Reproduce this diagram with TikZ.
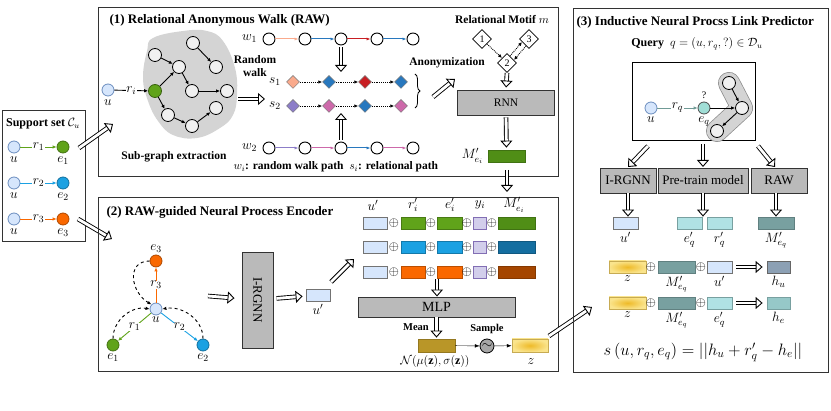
\RequirePackage{fix-cm}
\documentclass[tikz,border=0pt]{standalone}
\usepackage{fontspec}
\setmainfont{Liberation Serif}
\usetikzlibrary{arrows.meta,positioning,calc,decorations.pathreplacing,shapes.geometric}
\definecolor{uBlue}{RGB}{214,230,252}
\definecolor{uBlueLine}{RGB}{108,142,191}
\definecolor{eGreen}{RGB}{96,163,26}
\definecolor{eBlue}{RGB}{27,161,226}
\definecolor{eOrange}{RGB}{250,104,0}
\definecolor{eTeal}{RGB}{160,222,214}
\definecolor{wSalmon}{RGB}{250,170,140}
\definecolor{wBlue}{RGB}{40,120,190}
\definecolor{wRed}{RGB}{200,30,35}
\definecolor{wPurple}{RGB}{140,125,200}
\definecolor{wPink}{RGB}{205,105,170}
\definecolor{mGreen}{RGB}{80,142,22}
\definecolor{mBlue}{RGB}{20,110,160}
\definecolor{mBrown}{RGB}{165,70,0}
\definecolor{yLav}{RGB}{210,206,235}
\definecolor{yLavLine}{RGB}{130,110,180}
\definecolor{meanGold}{RGB}{185,150,40}
\definecolor{zYellow}{RGB}{238,186,40}
\definecolor{zLight}{RGB}{250,228,140}
\definecolor{qTeal}{RGB}{176,226,228}
\definecolor{qDark}{RGB}{120,160,160}
\definecolor{hBlue}{RGB}{140,160,180}
\definecolor{hTeal}{RGB}{150,200,200}
\colorlet{boxgray}{black!27}
\colorlet{blobgray}{black!17}

\begin{document}
\begin{tikzpicture}[x=1pt,y=-1pt,>=Latex,font=\fontsize{13.5}{15}\selectfont,
  panel/.style={draw=black!80,line width=1.1pt},
  ttl/.style={font=\bfseries\fontsize{13}{15}\selectfont,anchor=west},
  bold/.style={font=\bfseries\fontsize{11.5}{13}\selectfont},
  ent/.style={circle,draw,line width=0.8pt,minimum size=12pt,inner sep=0pt},
  wnode/.style={circle,draw,line width=0.9pt,fill=white,minimum size=12pt,inner sep=0pt},
  gnode/.style={circle,draw,line width=0.8pt,fill=black!6,minimum size=13pt,inner sep=0pt},
  rel/.style={diamond,draw=black!55,line width=0.5pt,minimum size=13pt,inner sep=0pt},
  motif/.style={diamond,draw,line width=0.8pt,fill=white,minimum size=19pt,inner sep=0pt,font=\fontsize{10}{11}\selectfont},
  vec/.style={rectangle,line width=0.8pt,minimum height=12pt,inner sep=0pt},
  grayblock/.style={draw=black!80,line width=0.9pt,fill=boxgray,font=\fontsize{13}{15}\selectfont},
  op/.style={inner sep=0pt,font=\fontsize{13}{14}\selectfont},
  rl/.style={fill=white,inner sep=0.5pt},
  link/.style={-{Latex[length=4pt,width=3.5pt]},line width=0.9pt},
  walk/.style={-{Latex[length=4pt,width=3pt]},line width=1pt},
  hop/.style={densely dotted,-{Latex[length=4pt,width=3.5pt]},line width=0.9pt},
  back/.style={dashed,-{Latex[length=4pt,width=3.5pt]},line width=0.9pt},
  hollow/.style={double=white,double distance=2.8pt,line width=0.9pt,-{Triangle[open,fill=white,length=7pt,width=12pt]}}]
\useasboundingbox (0,0) rectangle (831,411);

% support set
\node[panel,minimum width=83pt,minimum height=131pt,anchor=north west] (support) at (2,110) {};
\node[font=\bfseries\fontsize{12}{14}\selectfont] (suptitle) at (43,124) {Support set $\mathcal{C}_u$};
\node[ent,fill=uBlue,draw=uBlueLine] (su1) at (14,147) {};
\node[ent,fill=eGreen,draw=eGreen!70!black] (se1) at (63,147) {};
\node[ent,fill=uBlue,draw=uBlueLine] (su2) at (14,183) {};
\node[ent,fill=eBlue,draw=eBlue!70!black] (se2) at (63,183) {};
\node[ent,fill=uBlue,draw=uBlueLine] (su3) at (14,219) {};
\node[ent,fill=eOrange,draw=eOrange!70!black] (se3) at (63,219) {};
\draw[link,draw=eGreen] (su1) -- node[rl] {$r_1$} (se1);
\draw[link,draw=eBlue] (su2) -- node[rl] {$r_2$} (se2);
\draw[link,draw=eOrange] (su3) -- node[rl] {$r_3$} (se3);
\node[below=-0.5pt of su1] (lu1) {$u$};
\node[below=-0.5pt of se1] (le1) {$e_1$};
\node[below=-0.5pt of su2] (lu2) {$u$};
\node[below=-0.5pt of se2] (le2) {$e_2$};
\node[below=-0.5pt of su3] (lu3) {$u$};
\node[below=-0.5pt of se3] (le3) {$e_3$};

% (1) relational anonymous walk
\node[panel,minimum width=460pt,minimum height=169pt,anchor=north west] (raw) at (98,7) {};
\node[ttl] (rawtitle) at (106,20) {(1) Relational Anonymous Walk (RAW)};
\fill[blobgray] plot[smooth cycle,tension=0.7] coordinates {(153,38) (183,31) (207,31) (223,41) (235,68) (237,95) (233,115) (220,128) (197,138) (173,135) (158,121) (148,101) (143,78) (147,51)};
\node[ent,fill=uBlue,draw=uBlueLine] (ru) at (108,90) {};
\node[below=-0.5pt of ru] (lru) {$u$};
\node[gnode,fill=eGreen,draw=eGreen!60!black] (g0) at (155,91) {};
\node[gnode] (ga) at (155,55) {};
\node[gnode] (gb) at (193,43) {};
\node[gnode] (gc) at (179,67) {};
\node[gnode] (gd) at (216,67) {};
\node[gnode] (ge) at (192,91) {};
\node[gnode] (gf) at (227,91) {};
\node[gnode] (gg) at (168,115) {};
\node[gnode] (gh) at (192,126) {};
\node[gnode] (gi) at (216,108) {};
\draw[link] (ru) -- node[rl] {$r_i$} (g0);
\draw[link] (ga) -- (gc);
\draw[link] (gb) -- (gd);
\draw[link] (g0) -- (gc);
\draw[link] (gc) -- (ge);
\draw[link] (ge) -- (gf);
\draw[link] (g0) -- (gg);
\draw[link] (gg) -- (gh);
\draw[link] (gh) -- (gi);
\node[bold] (subtxt) at (174,157) {Sub-graph extraction};
\node[bold,align=center] (rwtxt) at (255,66) {Random\\walk};
\coordinate (rw1) at (238,99);
\coordinate (rw2) at (265,99);
\draw[hollow] (rw1) -- (rw2);

\node[wnode] (w11) at (269,39) {};
\node[wnode] (w12) at (305,39) {};
\node[wnode] (w13) at (341,39) {};
\node[wnode] (w14) at (377,39) {};
\node[wnode] (w15) at (413,39) {};
\node[left=2pt of w11] (lw1) {$w_1$};
\draw[walk,draw=wSalmon] (w11) -- (w12);
\draw[walk,draw=wBlue] (w12) -- (w13);
\draw[walk,draw=wRed] (w13) -- (w14);
\draw[walk,draw=wBlue] (w14) -- (w15);
\node[wnode] (w21) at (269,148) {};
\node[wnode] (w22) at (305,148) {};
\node[wnode] (w23) at (341,148) {};
\node[wnode] (w24) at (377,148) {};
\node[wnode] (w25) at (413,148) {};
\node[left=2pt of w21] (lw2) {$w_2$};
\draw[walk,draw=wPurple] (w21) -- (w22);
\draw[walk,draw=wPink] (w22) -- (w23);
\draw[walk,draw=wBlue] (w23) -- (w24);
\draw[walk,draw=wPink] (w24) -- (w25);

\node[rel,fill=wSalmon] (s11) at (293,82) {};
\node[rel,fill=wBlue] (s12) at (329,82) {};
\node[rel,fill=wRed] (s13) at (365,82) {};
\node[rel,fill=wBlue] (s14) at (401,82) {};
\node[left=2pt of s11] (ls1) {$s_1$};
\draw[hop] (s11) -- (s12);
\draw[hop] (s12) -- (s13);
\draw[hop] (s13) -- (s14);
\node[rel,fill=wPurple] (s21) at (293,106) {};
\node[rel,fill=wPink] (s22) at (329,106) {};
\node[rel,fill=wBlue] (s23) at (365,106) {};
\node[rel,fill=wPink] (s24) at (401,106) {};
\node[left=2pt of s21] (ls2) {$s_2$};
\draw[hop] (s21) -- (s22);
\draw[hop] (s22) -- (s23);
\draw[hop] (s23) -- (s24);
\coordinate (dn1) at (341,72);
\coordinate (up2) at (341,113);
\draw[hollow,shorten <=2pt] (w13) -- (dn1);
\draw[hollow,shorten <=2pt] (w23) -- (up2);
\node[bold,anchor=west] (legend) at (230,167) {$w_i$: random walk path\enspace $s_i$: relational path};
\draw[line width=0.8pt,decorate,decoration={brace,amplitude=5pt}] (415,74) -- (415,108);
\node[bold] (anon) at (447,63) {Anonymization};
\coordinate (an1) at (433,97);
\coordinate (an2) at (455,79);
\draw[hollow] (an1) -- (an2);

\node[bold] (motiftxt) at (502,20) {Relational Motif $m$};
\node[motif] (m1) at (482,39) {1};
\node[motif] (m2) at (507,63) {2};
\node[motif] (m3) at (529,39) {3};
\draw[hop] (m1.south east) -- (m2.north west);
\draw[hop] ([shift={(-2,-2)}]m2.north east) -- ([shift={(-2,-2)}]m3.south west);
\draw[hop] ([shift={(2,2)}]m3.south west) -- ([shift={(2,2)}]m2.north east);
\node[grayblock,font=\fontsize{11.5}{13}\selectfont,minimum width=97pt,minimum height=25pt] (rnn) at (506,102.5) {RNN};
\node[vec,fill=mGreen,draw=mGreen!80!black,minimum width=37pt] (mei) at (506.5,156) {};
\node[left=1pt of mei] (lmei) {$M'_{e_i}$};
\draw[hollow,shorten >=2pt] (m2.south) -- (rnn.north);
\draw[hollow,shorten <=2pt,shorten >=2pt] (rnn.south) -- (mei.north);
\coordinate (to2a) at (507,170);
\coordinate (to2b) at (507,192);
\draw[hollow] (to2a) -- (to2b);

% arrows from the support set
\coordinate (sa1) at (79,148);
\coordinate (sa2) at (113,124);
\draw[hollow] (sa1) -- (sa2);
\coordinate (sb1) at (78,219);
\coordinate (sb2) at (112,239);
\draw[hollow] (sb1) -- (sb2);

% (2) RAW-guided neural process encoder
\node[panel,minimum width=460pt,minimum height=174pt,anchor=north west] (enc) at (98,197) {};
\node[ttl] (enctitle) at (103,212) {(2) RAW-guided Neural Process Encoder};
\node[ent,fill=uBlue,draw=uBlueLine] (cu) at (156,309) {};
\node[ent,fill=eOrange,draw=eOrange!70!black] (ce3) at (156,261) {};
\node[ent,fill=eGreen,draw=eGreen!70!black] (ce1) at (113,345) {};
\node[ent,fill=eBlue,draw=eBlue!70!black] (ce2) at (203,345) {};
\draw[link,draw=eOrange] (cu) -- node[rl] {$r_3$} (ce3);
\draw[link,draw=eGreen] (cu) -- node[rl] {$r_1$} (ce1);
\draw[link,draw=eBlue] (cu) -- node[rl] {$r_2$} (ce2);
\node[above=-1pt of ce3] (lce3) {$e_3$};
\node[below=-1pt of ce1] (lce1) {$e_1$};
\node[below=-1pt of ce2] (lce2) {$e_2$};
\node[below=-2pt of cu] (lcu) {$u$};
\draw[back] (ce1.north) to[out=90,in=170] (cu.west);
\draw[back] (ce2.north) to[out=90,in=10] (cu.east);
\draw[back] (ce3.west) to[out=180,in=150,looseness=1.4] (cu.north west);
\node[grayblock,minimum width=96pt,minimum height=31pt,rotate=-90] (irg) at (257.5,300) {I-RGNN};
\node[vec,fill=uBlue,draw=black!55,minimum width=24pt] (uenc) at (318,295) {};
\node[below=-1pt of uenc] (luenc) {$u'$};
\coordinate (gr1) at (208,296);
\draw[hollow,shorten >=7pt] (gr1) -- (irg);
\draw[hollow,shorten <=3pt,shorten >=3pt] (irg) -- (uenc);
\coordinate (ur1) at (331,282);
\coordinate (ur2) at (354,259);
\draw[hollow] (ur1) -- (ur2);

\node (hdu) at (373,205) {$u'$};
\node (hdr) at (413,205) {$r'_i$};
\node (hde) at (450,205) {$e'_i$};
\node (hdy) at (480,205) {$y_i$};
\node (hdm) at (514,205) {$M'_{e_i}$};
\node[vec,fill=uBlue,draw=black!55,minimum width=24pt] (a1) at (375,223) {};
\node[op] (p11) at (394,223) {$\oplus$};
\node[vec,fill=eGreen,draw=eGreen!75!black,minimum width=24pt] (b1) at (413,223) {};
\node[op] (p12) at (431,223) {$\oplus$};
\node[vec,fill=eGreen,draw=eGreen!75!black,minimum width=25pt] (c1) at (449.5,223) {};
\node[op] (p13) at (467,223) {$\oplus$};
\node[vec,fill=yLav,draw=yLavLine,minimum width=13pt] (d1) at (479.5,223) {};
\node[op] (p14) at (492,223) {$\oplus$};
\node[vec,fill=mGreen,draw=mGreen!80!black,minimum width=37pt] (f1) at (516.5,223) {};
\node[vec,fill=uBlue,draw=black!55,minimum width=24pt] (a2) at (375,247) {};
\node[op] (p21) at (394,247) {$\oplus$};
\node[vec,fill=eBlue,draw=eBlue!75!black,minimum width=24pt] (b2) at (413,247) {};
\node[op] (p22) at (431,247) {$\oplus$};
\node[vec,fill=eBlue,draw=eBlue!75!black,minimum width=25pt] (c2) at (449.5,247) {};
\node[op] (p23) at (467,247) {$\oplus$};
\node[vec,fill=yLav,draw=yLavLine,minimum width=13pt] (d2) at (479.5,247) {};
\node[op] (p24) at (492,247) {$\oplus$};
\node[vec,fill=mBlue,draw=mBlue!80!black,minimum width=37pt] (f2) at (516.5,247) {};
\node[vec,fill=uBlue,draw=black!55,minimum width=24pt] (a3) at (375,272) {};
\node[op] (p31) at (394,272) {$\oplus$};
\node[vec,fill=eOrange,draw=eOrange!75!black,minimum width=24pt] (b3) at (413,272) {};
\node[op] (p32) at (431,272) {$\oplus$};
\node[vec,fill=eOrange,draw=eOrange!75!black,minimum width=25pt] (c3) at (449.5,272) {};
\node[op] (p33) at (467,272) {$\oplus$};
\node[vec,fill=yLav,draw=yLavLine,minimum width=13pt] (d3) at (479.5,272) {};
\node[op] (p34) at (492,272) {$\oplus$};
\node[vec,fill=mBrown,draw=mBrown!80!black,minimum width=37pt] (f3) at (516.5,272) {};
\node[grayblock,font=\fontsize{14}{16}\selectfont,minimum width=157pt,minimum height=20pt] (mlp) at (436.5,307) {MLP};
\coordinate (ml1) at (437,279);
\draw[hollow] (ml1) -- (ml1 |- mlp.north);
\node[vec,fill=meanGold,draw=meanGold!80!black,minimum width=37pt,minimum height=13pt] (mean) at (436.5,345.5) {};
\draw[hollow,shorten >=1pt] (mlp.south) -- (mean.north);
\node[font=\bfseries\fontsize{10.5}{12}\selectfont] (meantxt) at (416,327) {Mean};
\node[font=\fontsize{12}{14}\selectfont] (gauss) at (435,362) {$\mathcal{N}(\mu(\mathbf{z}),\sigma(\mathbf{z}))$};
\node[circle,draw,line width=0.8pt,fill=black!35,minimum size=14pt,inner sep=0pt] (smp) at (487,346) {$\sim$};
\node[font=\bfseries\fontsize{10.5}{12}\selectfont] (smptxt) at (487,329) {Sample};
\node[vec,inner color=zYellow,outer color=zLight,draw=meanGold!80,minimum width=36pt,minimum height=13pt] (zenc) at (530,345.5) {};
\node (lzenc) at (531,362) {$z$};
\draw[->] (mean) -- (smp);
\draw[->] (smp) -- (zenc);
\coordinate (zr1) at (549,336);
\coordinate (zr2) at (592,307);
\draw[hollow] (zr1) -- (zr2);

% (3) inductive neural process link predictor
\node[panel,minimum width=255pt,minimum height=364pt,anchor=north west] (pred) at (573,8) {};
\node[ttl] (predtitle) at (573,22) {(3) Inductive Neural Procss Link Predictor};
\node[font=\fontsize{12}{14}\selectfont] (query) at (697,44) {\textbf{Query} \ $q=(u,r_q,?)\in\mathcal{D}_u$};
\node[draw,line width=0.9pt,minimum width=123pt,minimum height=78pt] (qbox) at (694,101) {};
\draw[black!45,line width=22pt,line cap=round,line join=round] (729,83) -- (742,108) -- (717,131);
\draw[blobgray,line width=20.5pt,line cap=round,line join=round] (729,83) -- (742,108) -- (717,131);
\node[ent,fill=uBlue,draw=uBlueLine] (qu) at (651,108) {};
\node[ent,fill=eTeal,draw=black!70] (qe) at (704,108) {};
\node[gnode,fill=black!6] (qa) at (729,83) {};
\node[gnode,fill=black!6] (qb) at (742,108) {};
\node[gnode,fill=black!6] (qc) at (717,131) {};
\draw[link,draw=eTeal!70!black] (qu) -- node[rl] {$r_q$} (qe);
\node[above=-1pt of qe,font=\fontsize{10}{11}\selectfont] (qmark) {?};
\node[below=-1pt of qu] (lqu) {$u$};
\node[below=-1pt of qe] (lqe) {$e_q$};
\draw[link] (qe) -- (qb);
\draw[link] (qa) -- (qb);
\draw[link] (qb) -- (qc);
\node[grayblock,minimum width=56pt,minimum height=25pt] (irg3) at (628,180.5) {I-RGNN};
\node[grayblock,minimum width=90pt,minimum height=25pt] (pre) at (703,180.5) {Pre-train model};
\node[grayblock,minimum width=56pt,minimum height=25pt] (rawb) at (779,180.5) {RAW};
\coordinate (qa1) at (648,146);
\coordinate (qa2) at (628,167);
\coordinate (qb1) at (703,144);
\coordinate (qb2) at (703,167);
\coordinate (qc1) at (758,146);
\coordinate (qc2) at (775,167);
\draw[hollow] (qa1) -- (qa2);
\draw[hollow] (qb1) -- (qb2);
\draw[hollow] (qc1) -- (qc2);

\node[vec,fill=uBlue,draw=black!55,minimum width=25pt] (uq) at (625.5,223) {};
\node[vec,fill=qTeal,draw=qDark,minimum width=25pt] (eq) at (689.5,223) {};
\node[vec,fill=qTeal,draw=qDark,minimum width=25pt] (rq) at (719.5,223) {};
\node[vec,fill=qDark,draw=qDark!80!black,minimum width=36pt] (mq) at (776,223) {};
\draw[hollow] (irg3.south) -- (irg3.south |- uq.north);
\draw[hollow] (pre.south) -- (pre.south |- eq.north);
\draw[hollow] (rawb.south -| mq) -- (mq.north);
\node[below=-1pt of uq] (luq) {$u'$};
\node[below=-1pt of eq] (leq) {$e'_q$};
\node[below=-1pt of rq] (lrq) {$r'_q$};
\node[below=-1pt of mq] (lmq) {$M'_{e_q}$};

\node[vec,inner color=zYellow,outer color=zLight,draw=meanGold!80,minimum width=37pt] (zh) at (627.5,267) {};
\node[op] (ph1) at (651,267) {$\oplus$};
\node[vec,fill=qDark,draw=qDark!80!black,minimum width=37pt] (mh) at (676.5,267) {};
\node[op] (ph2) at (701,267) {$\oplus$};
\node[vec,fill=uBlue,draw=black!55,minimum width=25pt] (uh) at (719.5,267) {};
\node[vec,fill=hBlue,draw=black!60,minimum width=23pt] (hu) at (778.5,267) {};
\draw[hollow,shorten <=4pt,shorten >=4pt] (uh) -- (hu);
\node[below=-1pt of zh] (lzh) {$z$};
\node[below=-1pt of mh] (lmh) {$M'_{e_q}$};
\node[below=-1pt of uh] (luh) {$u'$};
\node[below=-1pt of hu] (lhu) {$h_u$};
\node[vec,inner color=zYellow,outer color=zLight,draw=meanGold!80,minimum width=37pt] (ze) at (627.5,303) {};
\node[op] (pe1) at (651,303) {$\oplus$};
\node[vec,fill=qDark,draw=qDark!80!black,minimum width=37pt] (me) at (676.5,303) {};
\node[op] (pe2) at (701,303) {$\oplus$};
\node[vec,fill=qTeal,draw=qDark,minimum width=25pt] (eh) at (719.5,303) {};
\node[vec,fill=hTeal,draw=qDark,minimum width=23pt] (he) at (778.5,303) {};
\draw[hollow,shorten <=4pt,shorten >=4pt] (eh) -- (he);
\node[below=-1pt of ze] (lze) {$z$};
\node[below=-1pt of me] (lme) {$M'_{e_q}$};
\node[below=-1pt of eh] (leh) {$e'_q$};
\node[below=-1pt of he] (lhe) {$h_e$};
\node[font=\fontsize{16.5}{19}\selectfont] (score) at (703,352) {$s\,(u,r_q,e_q)=||h_u+r'_q-h_e||$};
\end{tikzpicture}
\end{document}
